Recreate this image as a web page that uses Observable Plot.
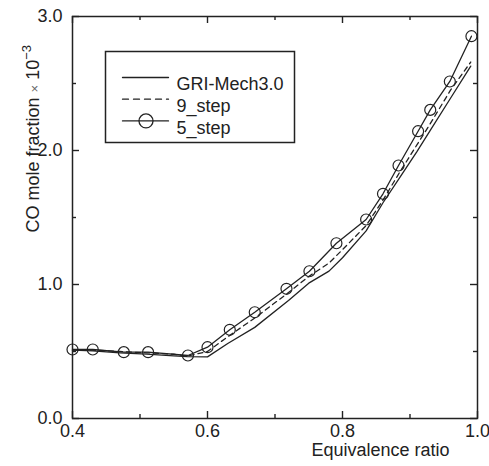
<!DOCTYPE html>
<html><head><meta charset="utf-8">
<script src="https://cdn.jsdelivr.net/npm/d3@7"></script>
<script src="https://cdn.jsdelivr.net/npm/@observablehq/plot@0.6"></script>
<style>body{margin:0;background:#fff}</style>
</head><body><div id="chart"></div>
<script>
// 5_step (with circle markers)
const phi5 = [0.400,0.430,0.476,0.512,0.571,0.600,0.633,0.670,0.717,0.751,0.791,0.835,0.860,0.883,0.912,0.930,0.959,0.991];
const co5  = [0.515,0.515,0.495,0.495,0.470,0.532,0.662,0.793,0.968,1.099,1.308,1.485,1.677,1.888,2.144,2.303,2.515,2.853];
// GRI-Mech3.0 and 9_step
const phiRef = [0.40,0.43,0.47,0.51,0.55,0.57,0.60,0.63,0.67,0.72,0.75,0.78,0.80,0.835,0.86,0.885,0.91,0.93,0.96,0.99];
const coGRI  = [0.51,0.505,0.49,0.48,0.468,0.462,0.46,0.56,0.68,0.88,1.01,1.10,1.20,1.40,1.61,1.80,1.99,2.15,2.39,2.63];
const co9    = [0.51,0.51,0.50,0.49,0.48,0.465,0.50,0.61,0.75,0.94,1.06,1.16,1.26,1.44,1.63,1.84,2.04,2.20,2.45,2.66];
const seriesNames = ["GRI-Mech3.0","9_step","5_step"];
const xDomain = [0.4, 1.0];
const yDomain = [0, 3.0];
const xMajor = [0.4,0.6,0.8,1.0];
const xMinor = [0.5,0.7,0.9];
const yMajor = [0.0,1.0,2.0,3.0];
const yMinor = [0.5,1.5,2.5];
const yLabelMain = "CO mole fraction × 10";
const xLabel = "Equivalence ratio";

const five = phi5.map((x,i)=>({x, y: co5[i]}));
const gri = phiRef.map((x,i)=>({x, y: coGRI[i]}));
const nine = phiRef.map((x,i)=>({x, y: co9[i]}));

const ink = "#222";
const fmt = d3.format(".1f");
const W = 489, H = 466, mL = 72, mR = 12, mT = 16, mB = 48;
const fw = W - mL - mR, fh = H - mT - mB;
const majorLen = 7, minorLen = 4;
const lineShape = {draw(ctx, l){ ctx.moveTo(0,0); ctx.lineTo(0,-l); }};
const dashes = ["none","6,5","none"];

// inward ticks on all four sides (length converted from pixels to domain units)
const [x0, x1] = xDomain, [y0, y1] = yDomain;
function ticksX(values, len) {
  const d = (y1 - y0) * len / fh;
  return [
    Plot.ruleX(values, {x: v => v, y1: y0, y2: y0 + d, stroke: ink, strokeWidth: 1.4}),
    Plot.ruleX(values, {x: v => v, y1: y1, y2: y1 - d, stroke: ink, strokeWidth: 1.4})
  ];
}
function ticksY(values, len) {
  const d = (x1 - x0) * len / fw;
  return [
    Plot.ruleY(values, {y: v => v, x1: x0, x2: x0 + d, stroke: ink, strokeWidth: 1.4}),
    Plot.ruleY(values, {y: v => v, x1: x1, x2: x1 - d, stroke: ink, strokeWidth: 1.4})
  ];
}

const legendTop = 61, legendStep = 21.7;

const chart = Plot.plot({
  width: W, height: H,
  marginLeft: mL, marginRight: mR, marginTop: mT, marginBottom: mB,
  style: {fontFamily: "'Liberation Sans', Arial, sans-serif", fontSize: "18px", color: ink, background: "#fff"},
  x: {domain: xDomain},
  y: {domain: yDomain},
  marks: [
    Plot.axisX(xMajor, {anchor: "bottom", tickSize: 0, tickPadding: 6, tickFormat: fmt, label: null, fill: ink}),
    Plot.axisY(yMajor, {anchor: "left", tickSize: 0, tickPadding: 10, tickFormat: fmt, label: null, fill: ink}),
    ...ticksX(xMajor, majorLen), ...ticksX(xMinor, minorLen),
    ...ticksY(yMajor, majorLen), ...ticksY(yMinor, minorLen),
    Plot.frame({stroke: ink, strokeWidth: 1.5}),
    Plot.line(gri, {x: "x", y: "y", stroke: ink, strokeWidth: 1.3}),
    Plot.line(nine, {x: "x", y: "y", stroke: ink, strokeWidth: 1.3, strokeDasharray: "5,4"}),
    Plot.line(five, {x: "x", y: "y", stroke: ink, strokeWidth: 1.3}),
    Plot.dot(five, {x: "x", y: "y", r: 5.5, stroke: ink, strokeWidth: 1.2, fill: "none"}),
    // legend
    Plot.frame({insetLeft: 33, insetTop: 35, insetRight: 183, insetBottom: 276, stroke: ink, strokeWidth: 1.5}),
    ...seriesNames.map((name, i) => Plot.vector([name], {frameAnchor: "top-left", dx: 73, dy: legendTop + i*legendStep, rotate: 90, length: 46, anchor: "middle", shape: lineShape, stroke: ink, strokeWidth: 1.3, strokeDasharray: dashes[i]})),
    Plot.dot([seriesNames[2]], {frameAnchor: "top-left", dx: 73.5, dy: legendTop + 2*legendStep, r: 7, stroke: ink, strokeWidth: 1.3, fill: "none"}),
    ...seriesNames.map((name, i) => Plot.text([name], {frameAnchor: "top-left", dx: 104, dy: legendTop + i*legendStep, text: d => d, textAnchor: "start", fontSize: 18, fill: ink})),
    // axis titles
    Plot.text([xLabel], {frameAnchor: "bottom-right", dx: -97, dy: 37, text: d => d, textAnchor: "middle", fontSize: 18, fill: ink}),
    Plot.text([yLabelMain], {frameAnchor: "top-left", dx: -46, dy: 216, rotate: -90, text: d => d, textAnchor: "start", fontSize: 18, fill: ink})
  ]
});

// superscript and small multiplication sign in the y-axis title
const yt = [...chart.querySelectorAll("text")].find(e => e.textContent === yLabelMain);
if (yt) {
  yt.textContent = "";
  const ns = "http://www.w3.org/2000/svg";
  const parts = [
    {t: "CO mole fraction "},
    {t: "×", fs: 13, fill: "#666"},
    {t: " 10"},
    {t: "−3", fs: 13, dy: -8}
  ];
  for (const p of parts) {
    const ts = document.createElementNS(ns, "tspan");
    ts.textContent = p.t;
    if (p.fs) ts.setAttribute("font-size", p.fs);
    if (p.fill) ts.setAttribute("fill", p.fill);
    if (p.dy) ts.setAttribute("dy", p.dy);
    yt.appendChild(ts);
  }
}
document.getElementById("chart").appendChild(chart);
</script>
</body></html>
